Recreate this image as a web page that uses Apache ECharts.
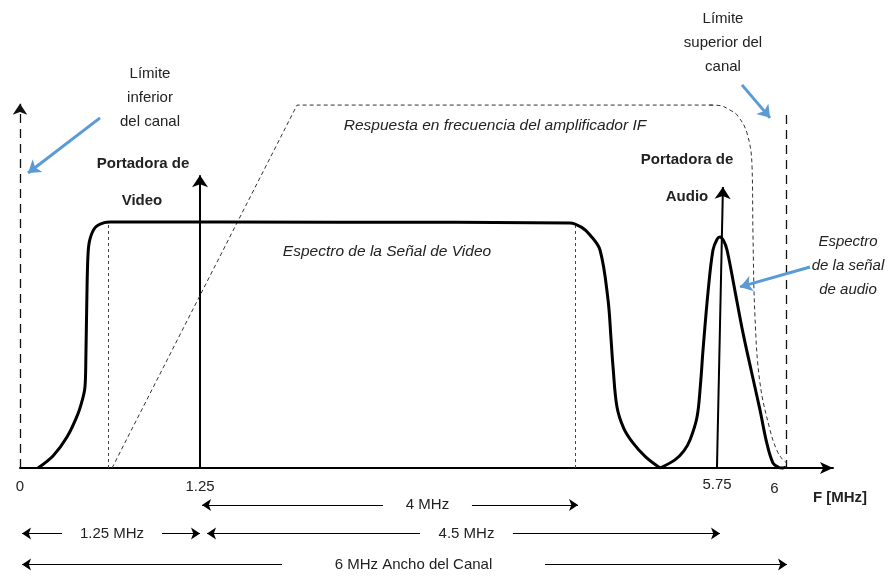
<!DOCTYPE html>
<html><head><meta charset="utf-8">
<script src="https://cdn.jsdelivr.net/npm/echarts@6/dist/echarts.min.js"></script>
<style>html,body{margin:0;padding:0;background:#fff}#c{width:895px;height:578px}</style>
</head><body><div id="c"></div>
<script>
// ---- data (schematic diagram units: x ~ MHz-like, y = relative amplitude) ----
const tickLabels = ['0', '1.25', '5.75', '6'];
const tickPositions = [0, 1.41, 5.46, 5.91];

const videoSpectrum = [
  [0.141, 0], [0.26, 0.05], [0.368, 0.126], [0.45, 0.215], [0.49, 0.28], [0.509, 0.33],
  [0.516, 0.45], [0.524, 0.7], [0.533, 0.87], [0.548, 0.93], [0.59, 0.978], [0.66, 0.997],
  [0.705, 1.0], [2.5, 0.999], [4.308, 0.996], [4.40, 0.978], [4.465, 0.947], [4.543, 0.886],
  [4.606, 0.683], [4.630, 0.52], [4.645, 0.411], [4.676, 0.248], [4.73, 0.16], [4.801, 0.102],
  [4.90, 0.045], [5.013, 0]
];
const audioSpectrum = [
  [5.013, 0], [5.13, 0.033], [5.20, 0.07], [5.248, 0.114], [5.303, 0.207], [5.33, 0.34],
  [5.35, 0.48], [5.39, 0.72], [5.428, 0.886], [5.46, 0.93], [5.483, 0.939], [5.51, 0.925],
  [5.538, 0.886], [5.60, 0.72], [5.663, 0.549], [5.73, 0.39], [5.796, 0.236], [5.85, 0.1],
  [5.898, 0.02], [5.94, 0.003], [5.976, 0], [6.0, 0.004]
];
const ifResponseRamp = [[0.721, 0], [2.17, 1.475], [5.45, 1.475]];
const ifResponseRolloff = [
  [5.40, 1.475], [5.483, 1.473], [5.56, 1.455], [5.616, 1.435], [5.694, 1.362], [5.734, 1.224],
  [5.741, 0.955], [5.757, 0.614], [5.796, 0.346], [5.875, 0.154], [5.93, 0.07], [5.976, 0.033],
  [6.008, 0.02]
];
const videoBandEdges = [0.689, 4.35];
const videoBandTop = 1.0;
const channelLimits = [0, 6.0];
const channelLimitTops = [1.48, 1.435];
const videoCarrier = [1.41, 1.19];
const audioCarrier = [[5.459, 0], [5.506, 1.142]];

const dimensionLabels = ['4 MHz', '1.25 MHz', '4.5 MHz', '6 MHz Ancho del Canal'];
const dimensionRows = [-0.150, -0.266, -0.266, -0.392];
const dimensionSpans = [[1.426, 4.371], [0.016, 1.41], [1.465, 5.483], [0.016, 6.008]];
const dimensionGaps = [[2.843, 3.540], [0.329, 1.112], [3.133, 3.861], [2.052, 4.112]];

const pointerArrows = [
  [[0.627, 1.423], [0.063, 1.199]],
  [[5.655, 1.557], [5.875, 1.423]],
  [[6.188, 0.817], [5.640, 0.736]]
];

// ---- chart ----
const FONT = '"Liberation Sans", Arial, sans-serif';
const chart = echarts.init(document.getElementById('c'), null, { renderer: 'canvas' });

const dimLines = [];
dimensionSpans.forEach((s, i) => {
  const y = dimensionRows[i], g = dimensionGaps[i];
  dimLines.push({ coords: [[g[0], y], [s[0], y]] });
  dimLines.push({ coords: [[g[1], y], [s[1], y]] });
});

const option = {
  animation: false,
  backgroundColor: '#fff',
  grid: { left: 20, right: 62, top: 0, bottom: 0, containLabel: false, outerBoundsMode: 'none' },
  xAxis: {
    type: 'value', min: 0, max: 6.368,
    axisLine: { onZero: true, symbol: ['none', 'arrow'], symbolSize: [9, 13], lineStyle: { color: '#000', width: 2 } },
    axisTick: { show: false },
    splitLine: { show: false },
    axisLabel: { show: false }
  },
  yAxis: {
    type: 'value', min: -0.447, max: 1.902,
    axisLine: { show: false }, axisTick: { show: false }, axisLabel: { show: false }, splitLine: { show: false }
  },
  series: [
    { type: 'line', data: videoSpectrum, smooth: 0.35, symbol: 'none', lineStyle: { color: '#000', width: 3 }, z: 5, silent: true },
    { type: 'line', data: audioSpectrum, smooth: 0.35, symbol: 'none', lineStyle: { color: '#000', width: 3 }, z: 5, silent: true },
    { type: 'line', data: ifResponseRamp, smooth: false, symbol: 'none', lineStyle: { color: '#333', width: 1, type: [4, 3] }, z: 3, silent: true },
    { type: 'line', data: ifResponseRolloff, smooth: 0.4, symbol: 'none', lineStyle: { color: '#333', width: 1, type: [4, 3] }, z: 3, silent: true },
    { type: 'lines', coordinateSystem: 'cartesian2d', clip: false, silent: true, symbol: 'none',
      lineStyle: { color: '#444', width: 1, type: [3, 3], opacity: 1 },
      data: videoBandEdges.map(x => ({ coords: [[x, 0], [x, videoBandTop]] })) },
    { type: 'lines', coordinateSystem: 'cartesian2d', clip: false, silent: true, symbol: ['none', 'arrow'], symbolSize: 11,
      lineStyle: { color: '#111', width: 1.3, type: [9, 6], opacity: 1 },
      data: [{ coords: [[channelLimits[0], 0], [channelLimits[0], channelLimitTops[0]]] }] },
    { type: 'lines', coordinateSystem: 'cartesian2d', clip: false, silent: true, symbol: 'none',
      lineStyle: { color: '#111', width: 1.3, type: [9, 6], opacity: 1 },
      data: [{ coords: [[channelLimits[1], channelLimitTops[1]], [channelLimits[1], 0]] }] },
    { type: 'lines', coordinateSystem: 'cartesian2d', clip: false, silent: true, symbol: ['none', 'arrow'], symbolSize: 12,
      lineStyle: { color: '#000', width: 2, opacity: 1 },
      data: [{ coords: [[videoCarrier[0], 0], [videoCarrier[0], videoCarrier[1]]] }, { coords: audioCarrier }] },
    { type: 'lines', coordinateSystem: 'cartesian2d', clip: false, silent: true, symbol: ['none', 'arrow'], symbolSize: 9,
      lineStyle: { color: '#000', width: 1.2, opacity: 1 }, data: dimLines },
    { type: 'lines', coordinateSystem: 'cartesian2d', clip: false, silent: true, symbol: ['none', 'arrow'], symbolSize: 12,
      lineStyle: { color: '#5b9bd5', width: 3, opacity: 1 }, data: pointerArrows.map(c => ({ coords: c })) }
  ]
};
chart.setOption(option);

function txt(text, x, y, opts) {
  opts = opts || {};
  return {
    type: 'text', silent: true, z: 10,
    style: {
      text: text, x: x, y: y, fill: opts.fill || '#222',
      font: (opts.italic ? 'italic ' : '') + (opts.bold ? 'bold ' : '') + (opts.size || 15) + 'px ' + FONT,
      align: 'center', verticalAlign: 'middle', textAlign: 'center', textVerticalAlign: 'middle',
      lineHeight: opts.lh || 24
    }
  };
}
const gfx = [
  txt('Límite\ninferior\ndel canal', 150, 98),
  txt('Portadora de', 143, 164, { bold: true }),
  txt('Video', 142, 201, { bold: true }),
  txt('Límite\nsuperior del\ncanal', 723, 43),
  txt('Respuesta en frecuencia del amplificador IF', 495, 126, { italic: true, size: 15.5 }),
  txt('Portadora de', 687, 160, { bold: true }),
  txt('Audio', 687, 197, { bold: true }),
  txt('Espectro de la Señal de Video', 387, 252, { italic: true, size: 15.5 }),
  txt('Espectro\nde la señal\nde audio', 848, 266, { italic: true }),
  txt('F [MHz]', 840, 498, { bold: true })
];
// tick labels placed through the x scale, just under the zero line
tickPositions.forEach((v, i) => {
  const p = chart.convertToPixel({ gridIndex: 0 }, [v, 0]);
  gfx.push(txt(tickLabels[i], p[0], p[1] + 19 + (i === 3 ? 2 : 0) - (i === 2 ? 2 : 0)));
});
dimensionLabels.forEach((lab, i) => {
  const g = dimensionGaps[i];
  const p = chart.convertToPixel({ gridIndex: 0 }, [(g[0] + g[1]) / 2, dimensionRows[i]]);
  gfx.push(txt(lab, p[0], p[1]));
});
chart.setOption({ graphic: gfx });
</script>
</body></html>
